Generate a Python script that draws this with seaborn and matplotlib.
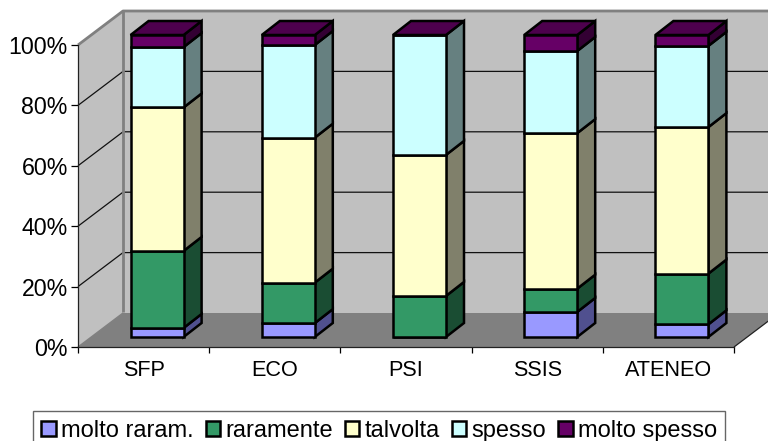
import matplotlib
matplotlib.use("Agg")
import matplotlib.pyplot as plt
import numpy as np
import seaborn as sns
from matplotlib.patches import Polygon, Patch
from matplotlib.lines import Line2D
from matplotlib.transforms import Affine2D, IdentityTransform

categories = ["SFP", "ECO", "PSI", "SSIS", "ATENEO"]
molto_raram = [3.0, 4.6, 0.0, 8.3, 4.2]
raramente = [25.5, 13.4, 13.6, 7.7, 16.8]
talvolta = [47.5, 48.0, 46.7, 51.5, 48.5]
spesso = [20.0, 30.7, 39.7, 27.2, 26.9]
molto_spesso = [4.0, 3.3, 0.0, 5.3, 3.6]
series_names = ["molto raram.", "raramente", "talvolta", "spesso", "molto spesso"]
series_values = [molto_raram, raramente, talvolta, spesso, molto_spesso]
front_colors = ["#9999FF", "#339966", "#FFFFCC", "#CCFFFF", "#660066"]
side_colors = ["#50508F", "#1A4D33", "#80806B", "#668080", "#330033"]
top_color = "#4D004D"

W, H = 768, 441
sns.set_theme(style="white")
plt.rcParams["font.family"] = ["Liberation Sans", "DejaVu Sans"]
fig = plt.figure(figsize=(W / 100, H / 100), dpi=100, facecolor="white")
ax = fig.add_axes([78 / W, (H - 347) / H, (734 - 78) / W, (347 - 45) / H])
ax.patch.set_alpha(0)

DX, DY = 45, 34          # floor depth
BX, BY = 13.5, 10        # bar front offset
BDX, BDY = 18, 14        # bar depth
bar_width = 0.404
EDGE = 1.8

bottom = np.zeros(len(categories))
shift = Affine2D().translate(BX, BY)
for vals, col in zip(series_values, front_colors):
    before = len(ax.patches)
    sns.barplot(x=categories, y=vals, bottom=bottom, color=col, saturation=1,
                width=bar_width, linewidth=EDGE, edgecolor="black", ax=ax, zorder=3)
    for p in ax.patches[before:]:
        p.set_transform(ax.transData + shift)
        p.set_clip_on(False)
        p.set_joinstyle("miter")
    bottom = bottom + np.array(vals)

ax.set_xlim(-0.5, 4.5)
ax.set_ylim(0, 100)
fig.canvas.draw()
T = ax.transData.transform


def poly(pts, fc, ec="none", lw=0, z=1):
    ax.add_patch(Polygon(pts, closed=True, facecolor=fc, edgecolor=ec, linewidth=lw,
                         transform=IdentityTransform(), clip_on=False, zorder=z,
                         joinstyle="miter"))


def line(pts, color, lw, z=1.5):
    xs, ys = zip(*pts)
    ax.add_line(Line2D(xs, ys, color=color, linewidth=lw, transform=IdentityTransform(),
                       clip_on=False, zorder=z, solid_capstyle="butt"))


x0, y0 = T((-0.5, 0))
x1, y1 = T((4.5, 100))
# walls and floor
poly([(x0, y0), (x0 + DX, y0 + DY), (x0 + DX, y1 + DY), (x0, y1)], "#C0C0C0", z=0.5)
poly([(x0 + DX, y0 + DY), (x1 + DX, y0 + DY), (x1 + DX, y1 + DY), (x0 + DX, y1 + DY)], "#C0C0C0", z=0.5)
poly([(x0, y0), (x1, y0), (x1 + DX, y0 + DY), (x0 + DX, y0 + DY)], "#808080", z=0.7)
# gridlines
yticks = [0, 20, 40, 60, 80, 100]
for t in yticks[1:-1]:
    _, yy = T((0, t))
    line([(x0, yy), (x0 + DX, yy + DY), (x1 + DX, yy + DY)], "#111111", 0.9, z=0.8)
# wall borders
line([(x0 + DX, y0 + DY + 1), (x0 + DX, y1 + DY)], "#808080", 2.0, z=0.9)
line([(x0, y1), (x0 + DX, y1 + DY), (x1 + DX, y1 + DY)], "#808080", 2.0, z=0.9)
line([(x0, y0), (x0 + DX, y0 + DY)], "#808080", 1.0, z=0.9)
line([(x1, y0), (x1 + DX, y0 + DY)], "#222222", 0.9, z=0.9)

# bar sides and tops
for i in range(len(categories)):
    xr, _ = T((i + bar_width / 2, 0))
    xl, _ = T((i - bar_width / 2, 0))
    cum = 0.0
    for vals, side in zip(series_values, side_colors):
        _, ya = T((0, cum))
        _, yb = T((0, cum + vals[i]))
        a = xr + BX
        pa = ya + BY
        pb = yb + BY
        if vals[i] > 0:
            poly([(a, pa), (a + BDX, pa + BDY), (a + BDX, pb + BDY), (a, pb)], side,
                 ec="black", lw=EDGE, z=2.5)
        cum += vals[i]
    _, yt = T((0, cum))
    a, b, t = xl + BX, xr + BX, yt + BY
    poly([(a, t), (b, t), (b + BDX, t + BDY), (a + BDX, t + BDY)], top_color,
         ec="black", lw=EDGE, z=2.5)

# axes furniture
ax.set_yticks(yticks)
ax.set_yticklabels([f"{t}%" for t in yticks], fontsize=16.7)
ax.set_xticks(range(len(categories)))
ax.set_xticklabels(categories, fontsize=15.6)
ax.set_xticks(np.arange(-0.5, 5, 1), minor=True)
ax.tick_params(axis="x", which="major", length=0, pad=9.5, colors="black")
ax.tick_params(axis="x", which="minor", length=4, width=0.9, color="black", bottom=True)
ax.tick_params(axis="y", length=5, width=0.9, color="black", left=True, pad=2.3, labelcolor="black")
for s in ["top", "right"]:
    ax.spines[s].set_visible(False)
for s in ["left", "bottom"]:
    ax.spines[s].set_color("#222222")
    ax.spines[s].set_linewidth(0.9)
    ax.spines[s].set_zorder(1)
ax.set_xlabel("")
ax.set_ylabel("")

handles = [Patch(facecolor=c, edgecolor="black", linewidth=1.8) for c in front_colors]
leg = fig.legend(handles, series_names, ncols=5, loc="lower left",
                 bbox_to_anchor=(33 / W, -9 / H), bbox_transform=fig.transFigure,
                 fontsize=17, labelcolor="black", frameon=True, fancybox=False, framealpha=1,
                 edgecolor="#666666", borderaxespad=0, borderpad=0.35,
                 handlelength=0.62, handleheight=0.62, handletextpad=0.22, columnspacing=0.5)
leg.get_frame().set_linewidth(1.0)

fig.savefig("out.png", dpi=100)
